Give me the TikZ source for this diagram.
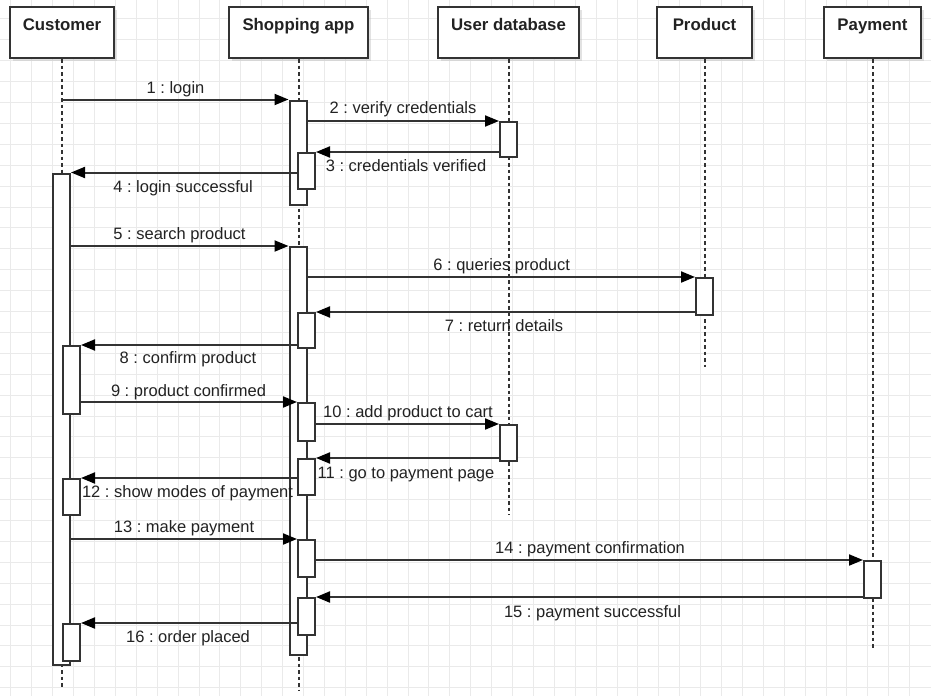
\documentclass[tikz,border=0pt]{standalone}
\usepackage{fontspec}
\setmainfont{Liberation Sans}
\usetikzlibrary{arrows.meta,shadows}
\definecolor{ink}{HTML}{333333}
\definecolor{txt}{HTML}{222222}
\definecolor{gridc}{HTML}{EAEAEA}
\frenchspacing
\begin{document}
\begin{tikzpicture}[x=1pt,y=-1pt,
  font=\fontsize{16.5}{19}\selectfont,
  head/.style={draw=ink, line width=2pt, fill=white, inner sep=0pt,
    text height=23.3pt, text depth=27.7pt, anchor=north, text=txt,
    font=\fontsize{16.8}{19}\selectfont\bfseries,
    drop shadow={shadow xshift=3pt, shadow yshift=-3pt, fill=gray!50, opacity=.45}},
  act/.style={draw=ink, line width=2pt, fill=white, minimum width=17pt, inner sep=0pt},
  life/.style={draw=ink, line width=2pt, dash pattern=on 3.5pt off 3pt},
  msg/.style={draw=ink, line width=2pt, -{Triangle[length=14pt,width=11pt,color=black]}},
  lbl/.style={anchor=base, text=txt, inner sep=0pt}]
\useasboundingbox (0,0) rectangle (931,696);
\fill[white] (0,0) rectangle (931,696);
% grid
\foreach \i in {0,...,43} \draw[gridc, line width=0.8pt] ({10.8+20.9*\i},0) -- ({10.8+20.9*\i},696);
\foreach \j in {0,...,32} \draw[gridc, line width=0.8pt] (0,{18.8+20.9*\j}) -- (931,{18.8+20.9*\j});

% heads
\node[head, minimum width=104pt] (cust) at (62,6) {Customer};
\node[head, minimum width=139pt] (shop) at (298.5,6) {Shopping app};
\node[head, minimum width=141pt] (udb) at (508.5,6) {User database};
\node[head, minimum width=95pt] (prod) at (704.5,6) {Product};
\node[head, minimum width=97pt] (pay) at (872.5,6) {Payment};

% lifelines
\coordinate (custEnd) at (62,687);
\coordinate (shopEnd) at (298.5,690);
\coordinate (udbEnd) at (508.5,515);
\coordinate (prodEnd) at (704.5,367);
\coordinate (payEnd) at (872.5,650);
\draw[life] (cust.south) -- (custEnd);
\draw[life] (shop.south) -- (shopEnd);
\draw[life] (udb.south) -- (udbEnd);
\draw[life] (prod.south) -- (prodEnd);
\draw[life] (pay.south) -- (payEnd);

% main activation boxes
\node[act, minimum height=491.5pt] (cm) at (61.5,419.25) {};
\node[act, minimum height=104.5pt] (sa1) at (298,152.75) {};
\node[act, minimum height=408pt] (sa2) at (298,451) {};

% nested / other activation boxes
\node[act, minimum height=36pt] (sn3) at (306.5,171) {};
\node[act, minimum height=35pt] (sn7) at (306.5,330.5) {};
\node[act, minimum height=38pt] (sn10) at (306.5,422) {};
\node[act, minimum height=36pt] (sn11) at (306.5,477) {};
\node[act, minimum height=37pt] (sn13) at (306.5,558.5) {};
\node[act, minimum height=37pt] (sn15) at (306.5,616.5) {};
\node[act, minimum height=68pt] (cn8) at (71.5,380) {};
\node[act, minimum height=36pt] (cn12) at (71.5,497) {};
\node[act, minimum height=37pt] (cn16) at (71.5,642.5) {};
\node[act, minimum height=35pt] (db2) at (508.5,139.5) {};
\node[act, minimum height=36pt] (db10) at (508.5,443) {};
\node[act, minimum height=37pt] (pr6) at (704.5,296.5) {};
\node[act, minimum height=37pt] (pm14) at (872.5,579.5) {};

% messages
\draw[msg] (cust.south |- sa1.north west) -- (sa1.north west);
\draw[msg] (sa1.east |- db2.north west) -- (db2.north west);
\draw[msg] (db2.west |- sn3.north east) -- (sn3.north east);
\draw[msg] (sn3.west |- cm.north east) -- (cm.north east);
\draw[msg] (cm.east |- sa2.north west) -- (sa2.north west);
\draw[msg] (sa2.east |- pr6.north west) -- (pr6.north west);
\draw[msg] (pr6.west |- sn7.north east) -- (sn7.north east);
\draw[msg] (sn7.west |- cn8.north east) -- (cn8.north east);
\draw[msg] (cn8.east |- sn10.north west) -- (sn10.north west);
\draw[msg] (sn10.east |- db10.north west) -- (db10.north west);
\draw[msg] (db10.west |- sn11.north east) -- (sn11.north east);
\draw[msg] (sn11.west |- cn12.north east) -- (cn12.north east);
\draw[msg] (cm.east |- sn13.north west) -- (sn13.north west);
\draw[msg] (sn13.east |- pm14.north west) -- (pm14.north west);
\draw[msg] (pm14.west |- sn15.north east) -- (sn15.north east);
\draw[msg] (sn15.west |- cn16.north east) -- (cn16.north east);

% labels
\node[lbl] (l1) at (175.5,93) {1 : login};
\node[lbl] (l2) at (403,113.3) {2 : verify credentials};
\node[lbl] (l3) at (406,171.7) {3 : credentials verified};
\node[lbl] (l4) at (183,192.3) {4 : login successful};
\node[lbl] (l5) at (179.5,239) {5 : search product};
\node[lbl] (l6) at (501.7,270.7) {6 : queries product};
\node[lbl] (l7) at (504,331) {7 : return details};
\node[lbl] (l8) at (188,363.3) {8 : confirm product};
\node[lbl] (l9) at (188.5,396) {9 : product confirmed};
\node[lbl] (l10) at (408,417.3) {10 : add product to cart};
\node[lbl] (l11) at (406,478.3) {11 : go to payment page};
\node[lbl] (l12) at (187.5,497.3) {12 : show modes of payment};
\node[lbl] (l13) at (184,532.7) {13 : make payment};
\node[lbl] (l14) at (590,553.3) {14 : payment confirmation};
\node[lbl] (l15) at (592.5,617.3) {15 : payment successful};
\node[lbl] (l16) at (188,642.3) {16 : order placed};
\end{tikzpicture}
\end{document}
